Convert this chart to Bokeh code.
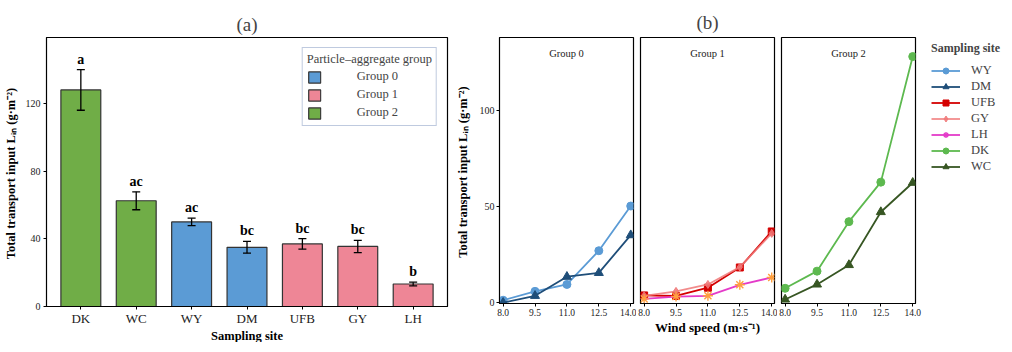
from bokeh.plotting import figure
from bokeh.models import (ColumnDataSource, FactorRange, Range1d, Whisker, TeeHead, Legend,
                          LegendItem, FixedTicker, PrintfTickFormatter, Label)
from bokeh.layouts import row
from bokeh.embed import file_html
from bokeh.resources import INLINE
from bokeh.core.properties import value

# ---------------- data: panel (a) ----------------
sites = ["DK", "WC", "WY", "DM", "UFB", "GY", "LH"]
lin_mean = [128.0, 62.5, 50.0, 35.0, 37.0, 35.5, 13.3]
lin_err = [12.0, 5.3, 2.2, 3.5, 3.1, 3.6, 1.1]
letters = ["a", "ac", "ac", "bc", "bc", "bc", "b"]
site_group = ["Group 2", "Group 2", "Group 0", "Group 0", "Group 1", "Group 1", "Group 1"]
group_names = ["Group 0", "Group 1", "Group 2"]
group_colors = ["#5B9BD5", "#EE8696", "#70AD47"]
y_ticks_a = [0, 40, 80, 120]

# ---------------- data: panel (b) ----------------
wind = [8.0, 9.5, 11.0, 12.5, 14.0]
WY = [1.3, 5.9, 9.5, 27.0, 50.2]
DM = [0.0, 3.6, 13.5, 15.5, 35.1]
UFB = [3.8, 3.5, 7.8, 18.3, 37.0]
GY = [3.6, 5.9, 9.5, 18.5, 36.0]
LH = [2.0, 3.2, 3.6, 9.3, 13.1]
DK = [7.5, 16.4, 42.1, 62.6, 127.8]
WC = [1.7, 9.5, 19.6, 47.1, 62.3]
y_ticks_b = [0, 50, 100]

FONT = "Liberation Serif"
YLABEL = "Total transport input  Lᵢₙ (g·m⁻²)"


def style_axes(p):
    p.xgrid.visible = False
    p.ygrid.visible = False
    p.outline_line_color = "black"
    p.outline_line_width = 1.2
    p.outline_line_alpha = 1.0
    for ax in p.axis:
        ax.axis_line_color = "black"
        ax.major_tick_line_color = "black"
        ax.major_tick_out = 3
        ax.major_tick_in = 0
        ax.minor_tick_line_color = None
        ax.major_label_text_font = FONT
        ax.axis_label_text_font = FONT
        ax.axis_label_text_font_style = "bold"
        ax.major_label_text_color = "#222222"
        ax.axis_label_text_color = "black"


# ---------------- panel (a) ----------------
color_of = dict(zip(group_names, group_colors))
src_a = ColumnDataSource(dict(
    site=sites, mean=lin_mean,
    upper=[m + e for m, e in zip(lin_mean, lin_err)],
    lower=[m - e for m, e in zip(lin_mean, lin_err)],
    letter=letters, group=site_group,
    color=[color_of[g] for g in site_group],
))

pa = figure(x_range=FactorRange(factors=sites, range_padding=0.12, range_padding_units="absolute"),
            y_range=Range1d(0, 159),
            frame_width=401, frame_height=269,
            min_border_left=43, min_border_right=5, min_border_top=34, min_border_bottom=33,
            output_backend="svg", toolbar_location=None, title="(a)")
bars = pa.vbar(x="site", top="mean", width=0.72, source=src_a, fill_color="color",
               line_color="#333333", line_width=1.2)
pa.add_layout(Whisker(base="site", upper="upper", lower="lower", source=src_a, level="overlay",
                      line_color="black", line_width=1.3,
                      upper_head=TeeHead(size=8, line_color="black", line_width=1.3),
                      lower_head=TeeHead(size=8, line_color="black", line_width=1.3)))
pa.text(x="site", y="upper", text="letter", source=src_a, text_align="center",
        text_baseline="bottom", y_offset=-3, text_font=value(FONT), text_font_style="bold",
        text_font_size="14px", text_color="black")

style_axes(pa)
pa.yaxis.ticker = FixedTicker(ticks=y_ticks_a)
pa.yaxis.major_label_text_font_size = "10px"
pa.yaxis.major_label_standoff = 3
pa.yaxis.axis_label = YLABEL
pa.yaxis.axis_label_text_font_size = "12.5px"
pa.yaxis.axis_label_standoff = 5
pa.xaxis.major_label_text_font_size = "13px"
pa.xaxis.major_label_standoff = 1
pa.xaxis.axis_label = "Sampling site"
pa.xaxis.axis_label_text_font_size = "12.5px"
pa.xaxis.axis_label_standoff = 0

pa.title.align = "center"
pa.title.text_font = FONT
pa.title.text_font_size = "19px"
pa.title.text_font_style = "normal"
pa.title.standoff = 6
pa.title.offset = -6

first_idx = [site_group.index(g) for g in group_names]
leg_a = Legend(items=[LegendItem(label=g, renderers=[bars], index=i)
                      for g, i in zip(group_names, first_idx)],
               location="top_right", margin=10, padding=4,
               title="Particle–aggregate group", title_text_font=FONT,
               title_text_font_size="12.5px", title_text_font_style="normal", title_standoff=1,
               label_text_font=FONT, label_text_font_size="12.5px",
               glyph_width=15, glyph_height=14, label_height=17, label_standoff=35, spacing=1,
               border_line_color="#8096C0", border_line_width=1.2, background_fill_color="white",
               background_fill_alpha=1.0)
pa.add_layout(leg_a)

# ---------------- panel (b) ----------------
series_style = {
    "WY": dict(color="#5B9BD5", marker="circle", size=8),
    "DM": dict(color="#1F4E79", marker="triangle", size=9),
    "UFB": dict(color="#D40000", marker="square", size=7),
    "GY": dict(color="#F07878", marker="diamond", size=8),
    "LH": dict(color="#E43BC9", marker="asterisk", size=10),
    "DK": dict(color="#5DB94F", marker="circle", size=8),
    "WC": dict(color="#375623", marker="triangle", size=9),
}
series_vals = {"WY": WY, "DM": DM, "UFB": UFB, "GY": GY, "LH": LH, "DK": DK, "WC": WC}
panel_members = [("Group 0", ["WY", "DM"]), ("Group 1", ["UFB", "GY", "LH"]), ("Group 2", ["DK", "WC"])]
order = ["WY", "DM", "UFB", "GY", "LH", "DK", "WC"]
sources = {n: ColumnDataSource(dict(x=wind, y=series_vals[n])) for n in order}

FW, FH = 134, 266
borders = [(47, 3), (4, 3), (4, 84)]
figs_b = []
for k, (glabel, members) in enumerate(panel_members):
    lb, rb = borders[k]
    p = figure(x_range=Range1d(7.83, 14.13), y_range=Range1d(-0.4, 137.7),
               frame_width=FW, frame_height=FH,
               min_border_left=lb, min_border_right=rb, min_border_top=37, min_border_bottom=33,
               y_axis_location="left" if k == 0 else None,
               output_backend="svg", toolbar_location=None,
               title="(b)" if k == 1 else None)
    for name in members:
        st = series_style[name]
        src = sources[name]
        alpha = 0.85 if name == "GY" else 1.0
        p.line("x", "y", source=src, line_color=st["color"], line_width=1.8, line_alpha=alpha)
        if name == "LH":
            p.scatter("x", "y", source=src, marker="asterisk", size=10, line_color="#FFA040",
                      line_width=1.4)
        else:
            p.scatter("x", "y", source=src, marker=st["marker"], size=st["size"],
                      fill_color=st["color"], line_color=st["color"], fill_alpha=alpha,
                      line_alpha=alpha)
    style_axes(p)
    p.xaxis.ticker = FixedTicker(ticks=wind)
    p.xaxis.formatter = PrintfTickFormatter(format="%.1f")
    p.xaxis.major_label_text_font_size = "9.5px"
    p.xaxis.major_label_standoff = 2
    if k == 0:
        p.yaxis.ticker = FixedTicker(ticks=y_ticks_b)
        p.yaxis.major_label_text_font_size = "10px"
        p.yaxis.major_label_standoff = 2
        p.yaxis.axis_label = YLABEL
        p.yaxis.axis_label_text_font_size = "12.5px"
        p.yaxis.axis_label_standoff = 7
    if k == 1:
        p.xaxis.axis_label = "Wind speed (m·s⁻¹)"
        p.xaxis.axis_label_text_font_size = "13px"
        p.xaxis.axis_label_standoff = 1
        p.title.align = "center"
        p.title.text_font = FONT
        p.title.text_font_size = "19px"
        p.title.text_font_style = "normal"
        p.title.standoff = 9
        p.title.offset = 3
    p.add_layout(Label(x=FW / 2, y=FH - 16, x_units="screen", y_units="screen", text=glabel,
                       text_align="center", text_baseline="middle", text_font=FONT,
                       text_font_size="10.5px", text_color="#222222"))
    figs_b.append(p)

# legend (b): key renderers in the last panel; they use each series' own source but a
# separate x range placed far away, so they draw only the legend keys
pl = figs_b[2]
pl.extra_x_ranges = {"keys": Range1d(-60, -50)}
items_b = []
for name in order:
    st = series_style[name]
    alpha = 0.85 if name == "GY" else 1.0
    kl = pl.line("x", "y", source=sources[name], x_range_name="keys",
                 line_color=st["color"], line_width=1.8, line_alpha=alpha)
    if name == "LH":
        km = pl.scatter("x", "y", source=sources[name], x_range_name="keys",
                        marker="asterisk", size=10, line_color=st["color"], line_width=1.4)
    else:
        km = pl.scatter("x", "y", source=sources[name], x_range_name="keys",
                        marker=st["marker"], size=st["size"], fill_color=st["color"],
                        line_color=st["color"], fill_alpha=alpha, line_alpha=alpha)
    items_b.append(LegendItem(label=name, renderers=[kl, km]))

leg_b = Legend(items=items_b,
               location=(16, 129), margin=0, padding=0,
               title="Sampling site", title_text_font=FONT, title_text_font_size="12px",
               title_text_font_style="bold", title_standoff=7,
               label_text_font=FONT, label_text_font_size="12.5px",
               glyph_width=29, glyph_height=15, label_height=15, label_standoff=11, spacing=1,
               border_line_color=None, background_fill_alpha=0)
pl.add_layout(leg_b, "right")

layout = row(pa, *figs_b, spacing=0)
open("out.html", "w").write(file_html(layout, INLINE))
